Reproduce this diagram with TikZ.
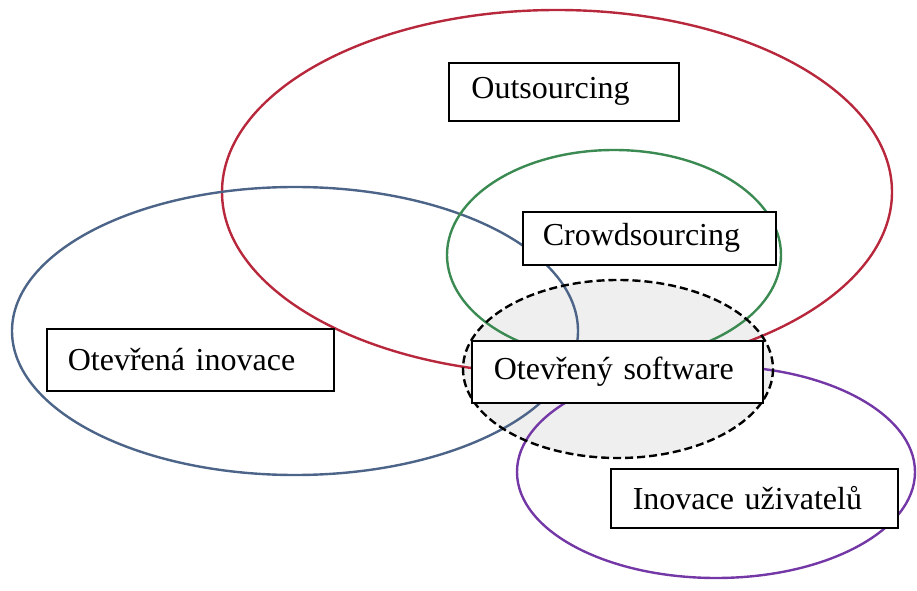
\documentclass[tikz,border=0pt]{standalone}
\usepackage{fontspec}
\setmainfont{Liberation Serif}
\usepackage{xcolor}
\definecolor{outred}{HTML}{B8283C}
\definecolor{oiblue}{HTML}{4C6488}
\definecolor{crgreen}{HTML}{3B8A52}
\definecolor{uipurple}{HTML}{7438A6}
\definecolor{ossgray}{HTML}{EFEFEF}
\usetikzlibrary{positioning}
\tikzset{
  setbox/.style={
    draw=black, fill=white,
    line width=1.2pt,
    font=\fontsize{24}{28}\selectfont,
    align=left, anchor=north west,
  },
  ring/.style={line width=1.8pt},
  ossring/.style={line width=1.8pt, dashed, dash pattern=on 6pt off 3pt},
}

\begin{document}
\begin{tikzpicture}[x=0.75pt, y=-0.75pt]

  \useasboundingbox (0,0) rectangle (917,591);

  % Shaded core
  \fill[ossgray] (618,369) ellipse [x radius=155, y radius=89];

  % Sets
  \draw[ring, outred]   (557,192) ellipse [x radius=335, y radius=182];
  \draw[ring, oiblue]   (295,331) ellipse [x radius=283, y radius=144];
  \draw[ring, crgreen]  (614,255) ellipse [x radius=167, y radius=105];
  \draw[ring, uipurple] (716,472) ellipse [x radius=199, y radius=106];
  \draw[ossring, black] (618,369) ellipse [x radius=155, y radius=89];

  % Labels
  \node[setbox, text width=138.5pt, inner xsep=17pt, minimum height=43.5pt]
    (outbox) at (448,62) {Outsourcing};
  \node[setbox, text width=159.75pt, inner xsep=15pt, minimum height=39.75pt]
    (crowdbox) at (522,211) {Crowdsourcing};
  \node[setbox, text width=185.25pt, inner xsep=16.5pt, minimum height=46.5pt]
    (ossbox) at (471,340) {Otevřený software};
  \node[setbox, text width=183.75pt, inner xsep=15.75pt, minimum height=46.5pt]
    (oibox) at (46,328) {Otevřená inovace};
  \node[setbox, text width=182.25pt, inner xsep=16.5pt, minimum height=44.25pt]
    (uibox) at (610,468) {Inovace uživatelů};

\end{tikzpicture}
\end{document}
